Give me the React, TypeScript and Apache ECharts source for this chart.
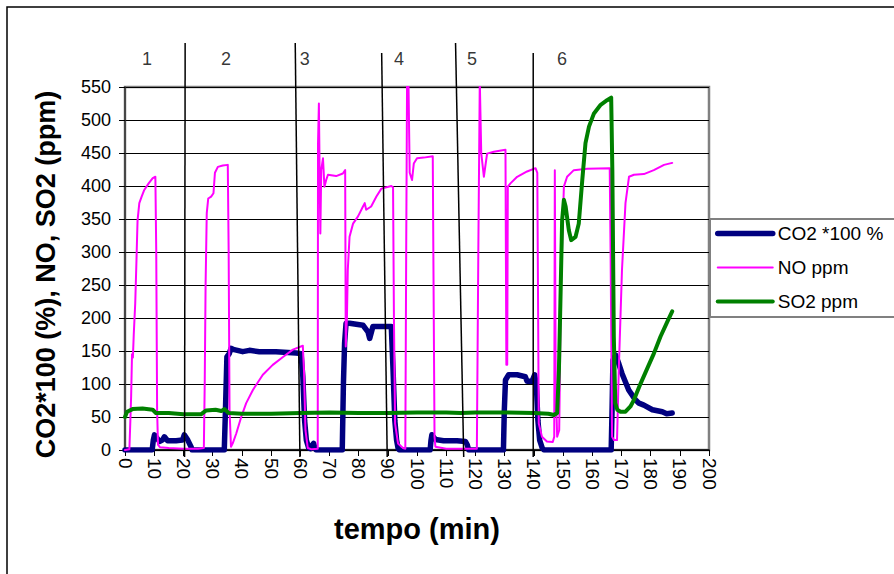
import React, { useEffect, useRef } from 'react';
import * as echarts from 'echarts';

const FONT = '"Liberation Sans", Arial, Helvetica, sans-serif';

const seriesNames = ['CO2 *100 %', 'NO ppm', 'SO2 ppm'];
const seriesColors = ['#000080', '#FF00FF', '#008000'];

const co2Data: [number, number][] = [
  [0, 0], [9.3, 0], [9.7, 15], [10.1, 23], [10.6, 20], [11.8, 13], [12.8, 15], [13.5, 20], [14.6, 14],
  [17.5, 14], [19.7, 15], [20.3, 23], [21.5, 15], [22.6, 5], [23.0, 0], [34.0, 0], [34.4, 60], [34.9, 141],
  [35.7, 146], [36.3, 154], [37.4, 152], [40.3, 149], [42.6, 151], [46.0, 149], [51.7, 149], [58.6, 147],
  [60.3, 146], [60.9, 111], [61.5, 45], [62.1, 15], [62.9, 3], [63.5, 2], [64.2, 8], [64.6, 10], [65.0, 3],
  [65.5, 0], [74.4, 0], [74.8, 100], [75.2, 162], [75.7, 192], [76.9, 192], [81.5, 189], [83.2, 179],
  [83.8, 169], [84.9, 187], [86.1, 187], [89.5, 187], [91.2, 187], [91.8, 121], [92.4, 45], [93.0, 15],
  [93.5, 3], [94, 0], [104.5, 0], [104.8, 15], [105.1, 23], [106.3, 16], [109.1, 14], [113.7, 14],
  [116.6, 13], [117.2, 8], [117.7, 0], [129.6, 0], [129.9, 60], [130.3, 106], [131.4, 114], [134.3, 114],
  [137.1, 111], [137.7, 104], [139.4, 104], [140.3, 114], [140.9, 96], [141.4, 45], [142.0, 15], [142.9, 3],
  [143.5, 0], [166.5, 0], [166.8, 60], [167.1, 136], [168.0, 144], [169.1, 131], [170.2, 116], [172.5, 91],
  [174.8, 76], [176.0, 71], [177.7, 68], [180.6, 61], [184.0, 58], [185.5, 55], [187.4, 56]
];

const noData: [number, number][] = [
  [0, 0], [1.5, 1], [1.8, 40], [2.1, 81], [2.4, 145], [2.7, 140], [3.0, 175], [3.5, 222], [3.9, 283],
  [4.3, 348], [4.9, 374], [5.7, 384], [6.6, 394], [8.1, 404], [9.5, 412], [10.4, 414], [10.7, 300],
  [11.0, 60], [11.3, 8], [12, 4], [15, 3], [20, 2], [25, 2], [27.0, 3], [27.3, 100], [27.6, 250],
  [28.0, 359], [28.5, 381], [29.5, 384], [30.3, 389], [30.8, 420], [31.8, 429], [33.5, 431], [35.2, 432],
  [35.5, 300], [35.8, 60], [36.3, 5], [36.9, 10], [38.1, 25], [39.8, 50], [41.5, 71], [43.8, 91],
  [47.2, 114], [50.6, 129], [54.1, 141], [57.5, 152], [60.9, 158], [61.3, 120], [61.8, 30], [62.6, 3],
  [64, 1], [66.0, 2], [66.1, 464], [66.4, 525], [66.7, 400], [66.9, 328], [67.2, 424], [67.8, 442],
  [68.3, 399], [68.9, 409], [69.5, 417], [72.3, 415], [74.6, 419], [75.4, 424], [75.6, 157], [76.0, 200],
  [76.3, 273], [76.9, 323], [78.1, 343], [79.8, 354], [81.5, 369], [82.1, 374], [82.6, 364], [84.3, 369],
  [86.1, 384], [87.8, 396], [91.2, 400], [91.8, 398], [92.1, 200], [92.5, 40], [93.5, 10], [95.2, 3],
  [96.0, 2], [96.3, 300], [96.6, 560], [97.1, 550], [97.5, 420], [98.3, 409], [98.9, 434], [100, 442],
  [102.3, 443], [105.4, 445], [105.6, 300], [106.0, 20], [106.3, 5], [110, 2], [120.5, 2], [121.0, 300],
  [121.5, 560], [122.0, 450], [122.9, 414], [124, 449], [126.3, 452], [130.3, 455], [130.6, 129],
  [130.9, 129], [131.1, 399], [132, 404], [134.3, 414], [137.7, 422], [140.6, 427], [141.2, 420],
  [141.7, 40], [142.8, 20], [144.5, 13], [146.5, 12], [147.0, 20], [147.2, 424], [147.5, 100], [148, 20],
  [148.7, 30], [149.3, 250], [150.3, 399], [151.4, 414], [153.7, 424], [158.3, 426], [166.0, 427],
  [166.3, 300], [166.8, 20], [167.5, 15], [168.5, 15], [169.1, 121], [170.2, 273], [171.4, 374],
  [172.6, 414], [174.3, 417], [177.7, 418], [181.1, 424], [184.6, 432], [187.4, 435]
];

const so2Data: [number, number][] = [
  [0, 50], [0.7, 58], [2.6, 62], [6, 63], [9.5, 61], [10.6, 56], [15, 56], [20, 54], [26, 54], [27.8, 60],
  [31, 61], [33, 59], [34, 62], [35.5, 56], [40, 55], [50, 55], [60, 56], [70, 57], [80, 56], [90, 56],
  [100, 57], [110, 57], [115, 56], [120, 57], [130, 57], [140, 56], [145, 55], [146.9, 53], [148.0, 56],
  [148.6, 121], [149.1, 222], [149.7, 348], [150.3, 379], [150.9, 369], [152.0, 333], [152.8, 318],
  [154.3, 323], [155.4, 343], [156.6, 409], [157.7, 465], [158.9, 490], [160.6, 510], [162.9, 523],
  [165.1, 530], [166.5, 534], [166.9, 424], [167.4, 172], [167.9, 71], [168.6, 61], [169.7, 58],
  [171.4, 58], [173.1, 66], [174.3, 76], [176.6, 101], [178.9, 124], [181.1, 146], [183.4, 172],
  [185.7, 194], [187.4, 210]
];

// separator lines between test phases: [top point, bottom point]
const separatorLines: [number, number][][] = [
  [[20.6, 616.7], [20.4, -10.5]],
  [[58.3, 616.7], [59.9, -10.5]],
  [[87.9, 601.5], [89.8, -10.5]],
  [[113.2, 616.7], [116.0, -10.5]],
  [[139.8, 601.5], [139.8, -10.5]]
];

const regionLabels = ['1', '2', '3', '4', '5', '6'];
const regionLabelX = [7.5, 34.6, 61.6, 93.8, 118.8, 149.7];
const regionLabelY = 592;

const xMin = 0, xMax = 200, xInterval = 10;
const yMin = 0, yMax = 550, yInterval = 50;

export default function App() {
  const ref = useRef<HTMLDivElement>(null);
  useEffect(() => {
    const chart = echarts.init(ref.current!, null, { renderer: 'svg' });
    const dataSets = [co2Data, noData, so2Data];
    const widths = [5.5, 2, 4];
    const mainSeries = dataSets.map((d, i) => ({
      type: 'line',
      name: seriesNames[i],
      data: d,
      symbol: 'none',
      showSymbol: false,
      lineStyle: { color: seriesColors[i], width: widths[i], join: 'round', cap: 'round' },
      itemStyle: { color: seriesColors[i] },
      z: 2 + i,
      silent: true
    }));
    const sepSeries = separatorLines.map((l, i) => ({
      type: 'line',
      name: 'sep' + i,
      data: l,
      symbol: 'none',
      clip: false,
      lineStyle: { color: '#000', width: 1.5 },
      z: 6,
      silent: true
    }));
    const labelSeries = {
      type: 'scatter',
      name: 'regions',
      clip: false,
      symbolSize: 1,
      itemStyle: { color: 'rgba(0,0,0,0)' },
      data: regionLabelX.map((x, i) => ({ value: [x, regionLabelY], name: regionLabels[i] })),
      label: {
        show: true,
        position: 'inside',
        formatter: '{b}',
        fontSize: 18,
        color: '#000',
        fontFamily: FONT
      },
      silent: true,
      z: 7
    };
    chart.setOption({
      animation: false,
      backgroundColor: '#fff',
      grid: {
        left: 125,
        top: 87,
        width: 584,
        height: 363,
        show: true,
        backgroundColor: '#fff',
        borderColor: '#808080',
        borderWidth: 2.5
      },
      legend: {
        orient: 'vertical',
        left: 710,
        top: 219,
        padding: [5, 5, 5, 5],
        itemWidth: 55,
        itemHeight: 14,
        itemGap: 15,
        textStyle: { fontSize: 19, color: '#000', fontFamily: FONT },
        data: seriesNames.map((n, i) => ({
          name: n,
          itemStyle: { color: 'rgba(0,0,0,0)', opacity: 0, borderWidth: 0 },
          lineStyle: { width: widths[i], color: seriesColors[i], cap: 'round' }
        }))
      },
      xAxis: {
        type: 'value',
        min: xMin,
        max: xMax,
        interval: xInterval,
        name: 'tempo (min)',
        nameLocation: 'middle',
        nameGap: 64,
        nameTextStyle: { fontSize: 29, fontWeight: 'bold', color: '#000', fontFamily: FONT },
        axisLine: { show: true, onZero: false, lineStyle: { color: '#000', width: 1.5 } },
        axisTick: { show: true, length: 6, lineStyle: { color: '#000', width: 1 } },
        axisLabel: { rotate: -90, fontSize: 19, color: '#000', fontFamily: FONT, margin: 8 },
        splitLine: { show: false }
      },
      yAxis: {
        type: 'value',
        min: yMin,
        max: yMax,
        interval: yInterval,
        name: 'CO2*100 (%), NO, SO2 (ppm)',
        nameLocation: 'middle',
        nameGap: 66,
        nameTextStyle: {
          fontSize: 27,
          fontWeight: 'bold',
          color: '#000',
          fontFamily: FONT,
          padding: [0, 12, 0, 0]
        },
        axisLine: { show: true, lineStyle: { color: '#333', width: 1.5 } },
        axisTick: { show: true, length: 6, lineStyle: { color: '#000', width: 1 } },
        axisLabel: { fontSize: 18, color: '#000', fontFamily: FONT, margin: 14 },
        splitLine: { show: true, lineStyle: { color: '#000', width: 1 } }
      },
      graphic: [
        {
          type: 'rect',
          shape: { x: 7, y: 7, width: 1000, height: 1000 },
          style: { fill: 'none', stroke: '#000', lineWidth: 1.5 },
          silent: true,
          z: 0
        },
        {
          type: 'rect',
          shape: { x: 710, y: 219, width: 300, height: 98 },
          style: { fill: 'none', stroke: '#808080', lineWidth: 2 },
          silent: true,
          z: 100
        }
      ],
      series: [...mainSeries, ...sepSeries, labelSeries]
    });
    return () => chart.dispose();
  }, []);
  return (
    <div
      ref={ref}
      style={{ position: 'fixed', left: 0, top: 0, width: 894, height: 574, background: '#fff' }}
    />
  );
}
